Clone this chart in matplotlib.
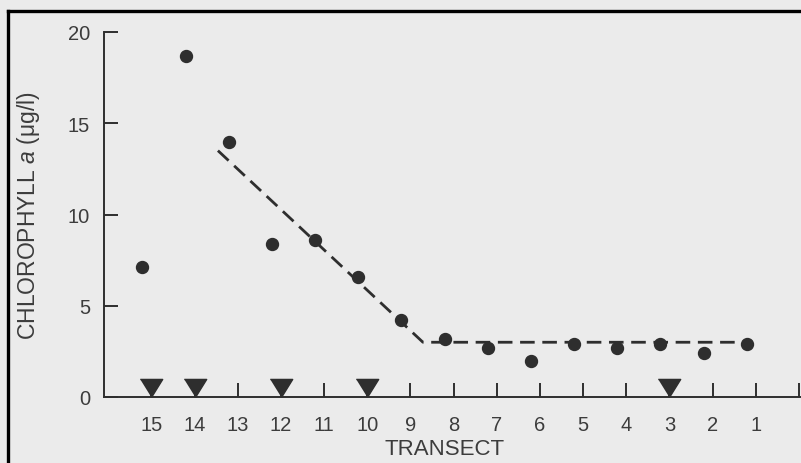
import matplotlib
matplotlib.use("Agg")
import matplotlib.pyplot as plt
import matplotlib.transforms as mtransforms
from matplotlib.lines import Line2D

# Données
transect = [15, 14, 13, 12, 11, 10, 9, 8, 7, 6, 5, 4, 3, 2, 1]
chl = [7.1, 18.7, 14.0, 8.4, 8.6, 6.6, 4.2, 3.2, 2.7, 2.0, 2.9, 2.7, 2.9, 2.4, 2.9]

# droite ajustée (tirets)
fit_x = [13.46, 8.71, 1.15]
fit_y = [13.5, 3.0, 3.0]

# transects marqués par un triangle
marked = [15, 14, 12, 10, 3]

tick_pos = list(range(0, 16))
tick_lab = [""] + [str(t) for t in range(1, 16)]

ink = "#2e2e2e"
txt = "#3c3c3c"
bg = "#ebebeb"

plt.rcParams["font.family"] = ["Liberation Sans", "DejaVu Sans"]
plt.rcParams["mathtext.fontset"] = "custom"
plt.rcParams["mathtext.rm"] = "Liberation Sans"
plt.rcParams["mathtext.it"] = "Liberation Sans:italic"
plt.rcParams["lines.scale_dashes"] = False

fig = plt.figure(figsize=(8.01, 4.64), dpi=100, facecolor=bg)
ax = fig.add_axes([104 / 801, 1 - 398 / 464, 697 / 801, 365 / 464])
ax.set_facecolor(bg)

# points décalés un peu à gauche des graduations, comme sur l'original
off = mtransforms.ScaledTranslation(-9 / 100, 0, fig.dpi_scale_trans)
ax.plot(transect, chl, "o", color=ink, ms=8.6, transform=ax.transData + off, zorder=3)

ax.plot(fit_x, fit_y, color=ink, lw=2.0, dashes=(10.5, 5.5), zorder=2)

# triangles posés sur l'axe (pointe sur l'axe)
tri = [(-0.62, 1.0), (0.62, 1.0), (0.0, 0.0)]
ax.plot(marked, [0] * len(marked), linestyle="none", marker=tri, ms=26,
        color=ink, clip_on=False, zorder=4)

ax.set_xlim(16.1, -0.05)
ax.set_ylim(0, 20)
ax.set_xticks(tick_pos)
ax.set_xticklabels(tick_lab)
ax.set_yticks([0, 5, 10, 15, 20])

for s in ["top", "right"]:
    ax.spines[s].set_visible(False)
for s in ["left", "bottom"]:
    ax.spines[s].set_color(ink)
    ax.spines[s].set_linewidth(1.4)

ax.tick_params(axis="both", direction="in", length=10, width=1.4, color=ink,
               labelcolor=txt, labelsize=14.5)
ax.tick_params(axis="x", pad=13)
ax.tick_params(axis="y", pad=10)

ax.set_ylabel(r"CHLOROPHYLL $\mathit{a}$ (μg/l)", fontsize=16.5, color=txt)
ax.yaxis.set_label_coords(-(104 - 42) / 697, 0.5)
ax.set_xlabel("TRANSECT", fontsize=16, color=txt)
ax.xaxis.set_label_coords((445 - 104) / 697, -(439 - 398) / 365)

# cadre noir (haut et gauche) de la page scannée
fig.add_artist(Line2D([8 / 801, 1.01], [1 - 12 / 464, 1 - 12 / 464], color="black", lw=2.4,
                      transform=fig.transFigure))
fig.add_artist(Line2D([8 / 801, 8 / 801], [1 - 12 / 464, -0.01], color="black", lw=2.4,
                      transform=fig.transFigure))

fig.savefig("out.png", dpi=100, facecolor=bg)
